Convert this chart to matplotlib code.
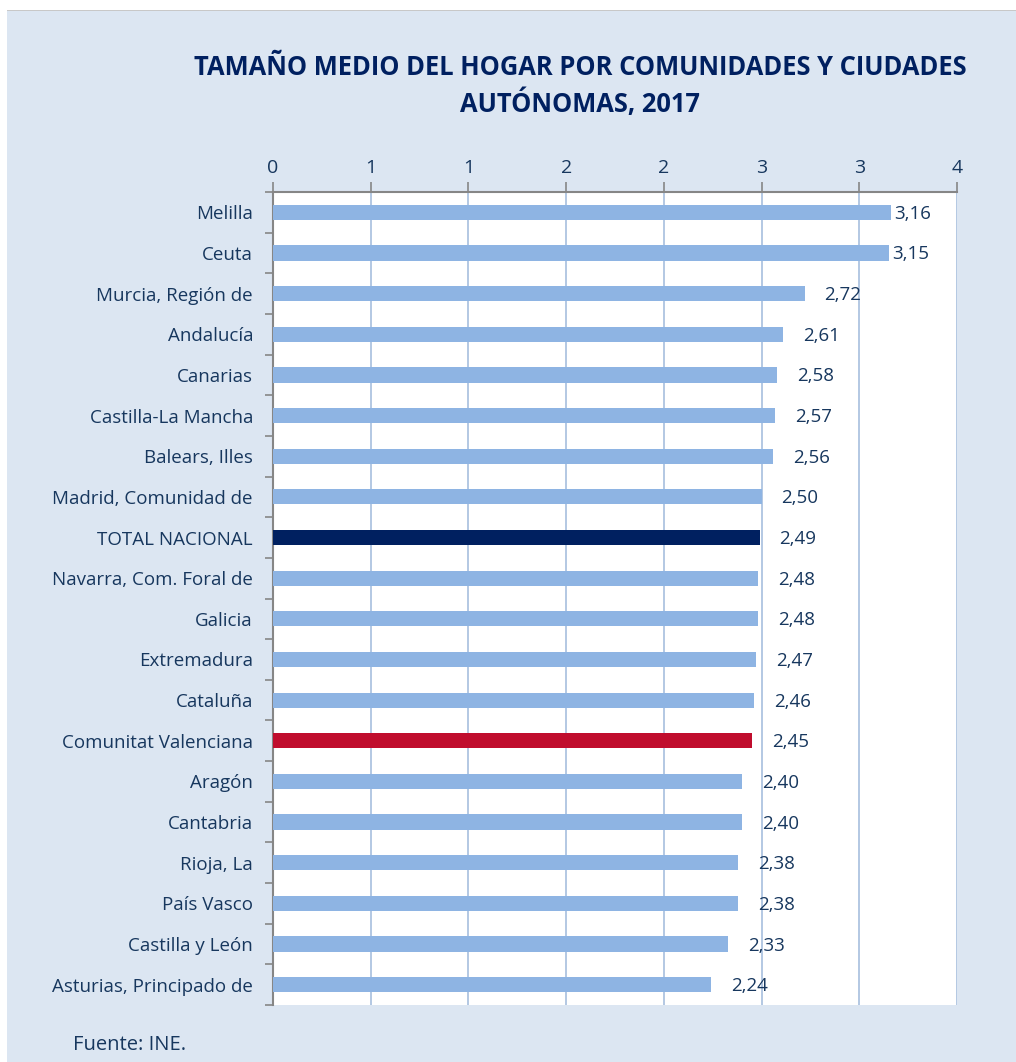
import matplotlib
matplotlib.use("Agg")
import matplotlib.pyplot as plt
from matplotlib.patches import Rectangle
from matplotlib.transforms import offset_copy

categories = ["Melilla", "Ceuta", "Murcia, Región de", "Andalucía", "Canarias",
              "Castilla-La Mancha", "Balears, Illes", "Madrid, Comunidad de",
              "TOTAL NACIONAL", "Navarra, Com. Foral de", "Galicia", "Extremadura",
              "Cataluña", "Comunitat Valenciana", "Aragón", "Cantabria", "Rioja, La",
              "País Vasco", "Castilla y León", "Asturias, Principado de"]
values = [3.16, 3.15, 2.72, 2.61, 2.58, 2.57, 2.56, 2.50, 2.49, 2.48, 2.48, 2.47,
          2.46, 2.45, 2.40, 2.40, 2.38, 2.38, 2.33, 2.24]
xticks = [0, 0.5, 1.0, 1.5, 2.0, 2.5, 3.0, 3.5]
xtick_labels = ["0", "1", "1", "2", "2", "3", "3", "4"]
title = "TAMAÑO MEDIO DEL HOGAR POR COMUNIDADES Y CIUDADES\nAUTÓNOMAS, 2017"
source = "Fuente: INE."

plt.rcParams['font.family'] = ['Open Sans', 'DejaVu Sans']

W, H = 1016, 1062
fig = plt.figure(figsize=(W / 100, H / 100), dpi=100)
fig.patch.set_facecolor("white")

bg = "#DCE6F2"
fig.patches.append(Rectangle((7 / W, 0), 1 - 7 / W, (H - 10) / H,
                             transform=fig.transFigure, facecolor=bg,
                             edgecolor="none", zorder=-10))
fig.patches.append(Rectangle((7 / W, (H - 11) / H), 1 - 7 / W, 1.5 / H,
                             transform=fig.transFigure, facecolor="#C8C8C8",
                             edgecolor="none", zorder=-10))

n = len(categories)
left, right, top, bottom = 273, 957, 192, 1005
ax = fig.add_axes([left / W, 1 - bottom / H, (right - left) / W, (bottom - top) / H])
ax.set_zorder(1)
ax.set_facecolor("white")

navy = "#002060"
text_col = "#17375E"
colors = []
for c in categories:
    if c == "TOTAL NACIONAL":
        colors.append(navy)
    elif c == "Comunitat Valenciana":
        colors.append("#C00D2D")
    else:
        colors.append("#8EB4E3")

y = list(range(n))
ax.barh(y, values, height=0.375, color=colors, zorder=3)

ax.set_xlim(0, 3.5)
ax.set_ylim(n - 0.5, -0.5)
ax.set_xticks(xticks)
ax.set_xticklabels(xtick_labels)
ax.xaxis.tick_top()
ax.tick_params(axis="x", direction="out", length=7, width=1.2, color="#868686",
               labelsize=14, labelcolor=text_col, pad=4)
ax.set_yticks(y)
ax.set_yticklabels(categories)
ax.tick_params(axis="y", which="major", length=0, labelsize=13.5,
               labelcolor=text_col, pad=14.4)
ax.set_yticks([i - 0.5 for i in range(n + 1)], minor=True)
ax.tick_params(axis="y", which="minor", direction="out", length=6, width=1.2,
               color="#868686")
ax.grid(axis="x", color="#A7BFDE", linewidth=1.2, zorder=1)
for s in ["right", "bottom"]:
    ax.spines[s].set_visible(False)
ax.spines["top"].set_color("#868686")
ax.spines["top"].set_linewidth(1.5)
ax.spines["left"].set_color("#868686")
ax.spines["left"].set_linewidth(1.5)

for yi, v in zip(y, values):
    off = 4 if v > 3 else 20
    tr = offset_copy(ax.transData, fig=fig, x=off, y=-1.5, units="dots")
    ax.text(v, yi, f"{v:.2f}".replace(".", ","), transform=tr, ha="left",
            va="center", fontsize=13.5, color=text_col, zorder=4)

fig.text(580 / W, 1 - 86 / H, title, ha="center", va="center", fontsize=18.4,
         fontweight="bold", color=navy, linespacing=1.4)
fig.text(73 / W, 1 - 1045 / H, source, ha="left", va="center", fontsize=14.5,
         color=text_col)

fig.savefig("out.png", dpi=100, facecolor=fig.get_facecolor())
